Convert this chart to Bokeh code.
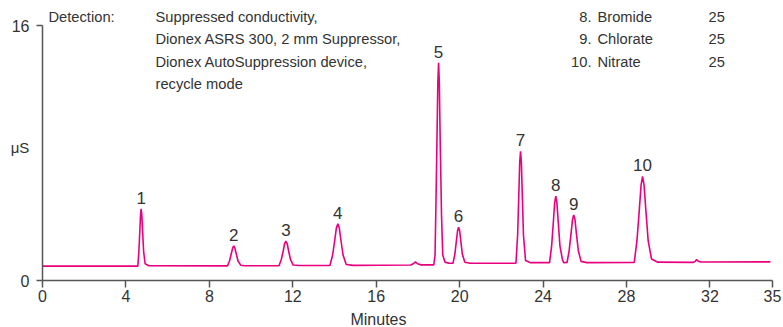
from bokeh.plotting import figure
from bokeh.models import Label, ColumnDataSource, FixedTicker, Range1d
from bokeh.core.properties import value
from bokeh.embed import file_html
from bokeh.resources import INLINE

# ---- data ----
trace_time = [0.0, 4.57, 4.62, 4.665, 4.70, 4.73, 4.76, 4.80, 4.85, 4.92, 5.1,
              8.87, 8.97, 9.05, 9.12, 9.17, 9.22, 9.29, 9.37, 9.50, 9.7,
              11.34, 11.45, 11.54, 11.61, 11.67, 11.73, 11.80, 11.89, 12.02, 12.3,
              13.78, 13.91, 14.01, 14.09, 14.16, 14.23, 14.31, 14.41, 14.56, 14.9,
              17.65, 17.78, 17.88, 17.98, 18.15,
              18.76, 18.82, 18.856, 18.91, 18.954, 18.99, 19.026, 19.07, 19.13, 19.19, 19.3, 19.48,
              19.68, 19.77, 19.84, 19.90, 19.95, 20.00, 20.06, 20.13, 20.25, 20.5,
              22.70, 22.78, 22.835, 22.88, 22.92, 22.96, 23.005, 23.06, 23.16, 23.4,
              24.31, 24.41, 24.49, 24.556, 24.61, 24.664, 24.73, 24.81, 24.93,
              24.99, 25.15, 25.25, 25.34, 25.41, 25.47, 25.53, 25.60, 25.69, 25.82, 26.1,
              28.37, 28.50, 28.61, 28.70, 28.77, 28.84, 28.93, 29.04, 29.2, 29.5,
              31.2, 31.3, 31.36, 31.45, 31.6, 34.9]
trace_us = [0.90, 0.90, 1.80, 3.06, 4.14, 4.50, 4.14, 3.06, 1.80, 1.05, 0.93,
            0.92, 1.24, 1.68, 2.05, 2.18, 2.05, 1.68, 1.24, 0.96, 0.93,
            0.93, 1.32, 1.85, 2.32, 2.47, 2.32, 1.85, 1.32, 0.97, 0.94,
            0.94, 1.60, 2.51, 3.30, 3.56, 3.30, 2.51, 1.60, 1.00, 0.95,
            0.97, 1.05, 1.17, 1.05, 0.98,
            0.98, 1.6, 4.15, 8.59, 12.39, 13.66, 12.39, 8.59, 4.15, 1.6, 1.15, 1.09,
            1.08, 1.64, 2.44, 3.12, 3.35, 3.12, 2.44, 1.64, 1.15, 1.08,
            1.08, 2.84, 5.30, 7.41, 8.11, 7.41, 5.30, 2.84, 1.25, 1.12,
            1.12, 2.16, 3.62, 4.87, 5.29, 4.87, 3.62, 2.16, 1.30,
            1.12, 1.13, 1.87, 2.92, 3.82, 4.12, 3.82, 2.92, 1.87, 1.20, 1.12,
            1.13, 2.48, 4.37, 6.00, 6.54, 6.00, 4.37, 2.48, 1.35, 1.15,
            1.14, 1.20, 1.32, 1.20, 1.16, 1.17]

peak_numbers = ["1", "2", "3", "4", "5", "6", "7", "8", "9", "10"]
peak_times = [4.73, 9.17, 11.67, 14.16, 18.99, 19.95, 22.92, 24.61, 25.47, 28.77]
peak_heights = [4.50, 2.18, 2.47, 3.56, 13.66, 3.35, 8.11, 5.29, 4.12, 6.54]

x_ticks = [0, 4, 8, 12, 16, 20, 24, 28, 32, 35]
y_ticks = [0, 16]
x_title = "Minutes"
y_title = "μS"

detection_label = "Detection:"
detection_lines = ["Suppressed conductivity,",
                   "Dionex ASRS 300, 2 mm Suppressor,",
                   "Dionex AutoSuppression device,",
                   "recycle mode"]
analyte_nums = ["8.", "9.", "10."]
analyte_names = ["Bromide", "Chlorate", "Nitrate"]
analyte_conc = ["25", "25", "25"]

LINE = "#e8007f"
TXT = "#333333"
AX = "#555555"
FONT = "Liberation Sans"

# pixel <-> data helpers (whole canvas is the frame; axes sit at fixed locations)
XK = 730 / 35.0      # px per minute (0 at px 42, 35 at px 772)
YK = 255 / 16.0      # px per uS (0 at px 280, 16 at px 25)
def dx(px):
    return (px - 42) / XK
def dy(py):
    return (280 - py) / YK

p = figure(width=783, height=327, output_backend="svg", toolbar_location=None,
           x_range=Range1d(dx(0), dx(783)), y_range=Range1d(dy(327), dy(0)),
           min_border_left=0, min_border_right=0, min_border_top=0, min_border_bottom=0)
p.outline_line_color = None
p.grid.visible = False
p.background_fill_color = "white"
p.border_fill_color = "white"

p.line(trace_time, trace_us, line_color=LINE, line_width=1.6)

# peak labels (centred about 11 px above each apex)
lab_y = [h + 11 / YK for h in peak_heights]
src = ColumnDataSource(dict(x=peak_times, y=lab_y, t=peak_numbers))
p.text(x="x", y="y", text="t", source=src, text_align="center", text_baseline="middle",
       text_font=value(FONT), text_font_size="17px", text_color=TXT)

for ax in (p.xaxis[0], p.yaxis[0]):
    ax.fixed_location = 0
    ax.axis_line_color = AX
    ax.axis_line_width = 1.5
    ax.major_tick_line_color = AX
    ax.major_tick_line_width = 1.5
    ax.minor_tick_line_color = None
    ax.major_tick_in = 0
    ax.major_label_text_font = FONT
    ax.major_label_text_font_size = "16px"
    ax.major_label_text_color = TXT

p.xaxis.ticker = FixedTicker(ticks=x_ticks)
p.xaxis.major_tick_out = 7
p.xaxis.major_label_standoff = 2
p.xaxis.bounds = (0, 35)
p.yaxis.ticker = FixedTicker(ticks=y_ticks)
p.yaxis.major_tick_out = 6
p.yaxis.major_label_standoff = 7
p.yaxis.bounds = (0, 16)

def lab(x, y, t, align="left", size="14.7px"):
    p.add_layout(Label(x=x, y=y, text=t, text_align=align, text_baseline="middle",
                       text_font=FONT, text_font_size=size, text_color=TXT))

lab(dx(19.5), dy(147), y_title, align="center", size="15px")
lab(dx(378), dy(319), x_title, align="center", size="16px")

lab(dx(48), dy(16), detection_label)
for i, line in enumerate(detection_lines):
    lab(dx(155), dy(16 + 22.6 * i), line)
for i in range(3):
    yy = dy(16 + 22.5 * i)
    lab(dx(591), yy, analyte_nums[i], align="right")
    lab(dx(597), yy, analyte_names[i])
    lab(dx(708), yy, analyte_conc[i])

open("out.html", "w").write(file_html(p, INLINE))
